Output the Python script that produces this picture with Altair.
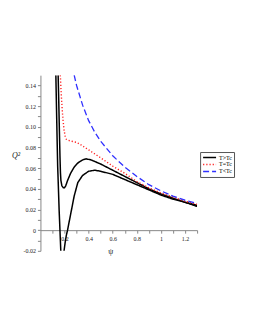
import altair as alt
import pandas as pd

# ---- data ----
up_x = [0.147, 0.152, 0.157, 0.162, 0.166, 0.170, 0.178, 0.190, 0.200, 0.210, 0.225, 0.25, 0.28, 0.31, 0.35, 0.38, 0.42, 0.50, 0.60, 0.70, 0.80, 0.90, 1.00, 1.10, 1.20, 1.30]
up_y = [0.150, 0.125, 0.098, 0.072, 0.056, 0.048, 0.043, 0.041, 0.041, 0.043, 0.048, 0.055, 0.061, 0.065, 0.068, 0.069, 0.068, 0.064, 0.058, 0.052, 0.046, 0.040, 0.035, 0.031, 0.027, 0.024]

lo_x = [0.128, 0.133, 0.138, 0.143, 0.148, 0.155, 0.162, 0.169, 0.175, 0.183, 0.190, 0.196, 0.205, 0.215, 0.225, 0.25, 0.28, 0.31, 0.35, 0.40, 0.45, 0.50, 0.60, 0.70, 0.80, 0.90, 1.00, 1.10, 1.20, 1.30]
lo_y = [0.150, 0.120, 0.090, 0.062, 0.045, 0.020, 0.000, -0.020, -0.032, -0.035, -0.030, -0.020, -0.012, -0.005, 0.000, 0.015, 0.033, 0.046, 0.053, 0.057, 0.058, 0.057, 0.054, 0.049, 0.044, 0.039, 0.034, 0.030, 0.027, 0.023]

eq_x = [0.165, 0.172, 0.180, 0.188, 0.196, 0.205, 0.215, 0.230, 0.260, 0.300, 0.330, 0.370, 0.410, 0.50, 0.60, 0.70, 0.80, 0.90, 1.00, 1.10, 1.20, 1.30]
eq_y = [0.150, 0.133, 0.118, 0.106, 0.097, 0.091, 0.088, 0.087, 0.086, 0.085, 0.083, 0.080, 0.077, 0.070, 0.062, 0.055, 0.047, 0.041, 0.036, 0.032, 0.028, 0.025]

lt_x = [0.28, 0.30, 0.35, 0.40, 0.45, 0.50, 0.60, 0.70, 0.80, 0.90, 1.00, 1.10, 1.20, 1.30]
lt_y = [0.150, 0.140, 0.121, 0.106, 0.095, 0.086, 0.072, 0.061, 0.052, 0.044, 0.038, 0.033, 0.029, 0.026]

types = ["T>Tc", "T=Tc", "T<Tc"]
colors = ["black", "#ff2020", "#3030ff"]
dashes = [[1, 0], [1.2, 2], [6, 3]]

rows = []
for sid, t, xs, ys in [("a", "T>Tc", up_x, up_y), ("b", "T>Tc", lo_x, lo_y),
                       ("c", "T=Tc", eq_x, eq_y), ("d", "T<Tc", lt_x, lt_y)]:
    for i, (x, y) in enumerate(zip(xs, ys)):
        rows.append({"s": sid, "type": t, "x": x, "y": y, "o": i})
df = pd.DataFrame(rows)

W, H = 157, 176
ymin, ymax = -0.02, 0.15
xoff = -H * (0 - ymin) / (ymax - ymin)

xticks = [round(0.1 * i, 1) for i in range(1, 14)]
yticks = [round(-0.02 + 0.01 * i, 2) for i in range(0, 17)]

chart = alt.Chart(df).mark_line(clip=True).encode(
    x=alt.X("x:Q", scale=alt.Scale(domain=[0, 1.3], nice=False, zero=False),
            axis=alt.Axis(values=xticks, offset=xoff, title="ψ", grid=False,
                          labelExpr="(round(datum.value*10)%2==1) ? '' : (datum.value==1 ? '1' : format(datum.value,'.1f'))",
                          tickSize=3, labelPadding=2, domainColor="#888", tickColor="#888",
                          labelFont="Liberation Serif", labelFontSize=6, labelColor="#222",
                          titleFont="Liberation Serif", titleFontSize=8, titleFontWeight="normal",
                          titleColor="#222", titleX=70, titleY=17)),
    y=alt.Y("y:Q", scale=alt.Scale(domain=[ymin, ymax], nice=False, zero=False),
            axis=alt.Axis(values=yticks, title="Q²", grid=False,
                          labelExpr="(round(datum.value*100)%2!=0) ? '' : (datum.value==0 ? '0' : replace(format(datum.value,'.2f'),'−','-'))",
                          tickSize=3, labelPadding=2, domainColor="#888", tickColor="#888",
                          labelFont="Liberation Serif", labelFontSize=6, labelColor="#222",
                          titleFont="Liberation Serif", titleFontSize=8, titleFontWeight="normal",
                          titleFontStyle="italic", titleColor="#222",
                          titleAngle=0, titleAlign="center", titleBaseline="middle",
                          titleX=-25, titleY=80)),
    color=alt.Color("type:N", scale=alt.Scale(domain=types, range=colors),
                    legend=alt.Legend(title=None, orient="none", legendX=160, legendY=77,
                                      labelFont="Liberation Serif", labelFontSize=6,
                                      symbolSize=169, symbolStrokeWidth=1.3, clipHeight=7,
                                      strokeColor="#555", fillColor="white", padding=2,
                                      rowPadding=0, labelOffset=2)),
    strokeDash=alt.StrokeDash("type:N", scale=alt.Scale(domain=types, range=dashes), legend=None),
    strokeWidth=alt.StrokeWidth("type:N", scale=alt.Scale(domain=types, range=[1.5, 1.3, 1.0]), legend=None),
    detail="s:N",
    order="o:Q",
).properties(width=W, height=H, autosize=alt.AutoSizeParams(type="none"),
             padding={"left": 32.5, "top": 67, "right": 50, "bottom": 70},
             background="white"
).configure_view(stroke=None, strokeWidth=0)

chart.save("out.html", embed_options={"renderer": "svg", "actions": False})
